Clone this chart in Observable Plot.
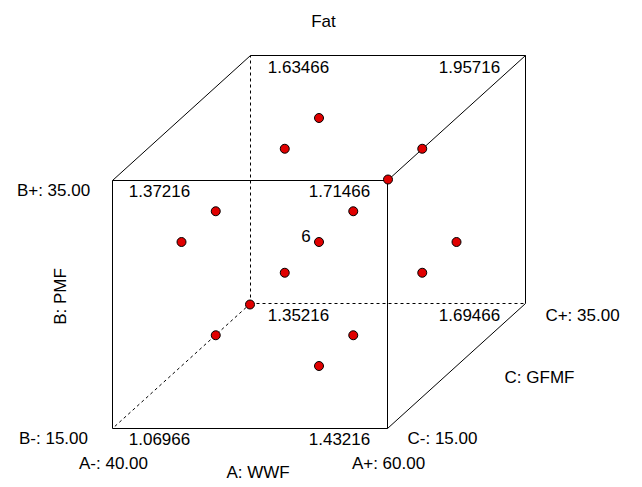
<!DOCTYPE html>
<html><head><meta charset="utf-8">
<script src="https://cdn.jsdelivr.net/npm/d3@7"></script>
<script src="https://cdn.jsdelivr.net/npm/@observablehq/plot@0.6"></script>
<style>body{margin:0;background:#fff;}</style>
</head><body><div id="chart"></div>
<script>
// ---- data ----
const responseName = "Fat";
const factorNames = ["A: WWF", "B: PMF", "C: GFMF"];
const factorLetters = ["A", "B", "C"];
const lowLevels = [40, 15, 15];
const highLevels = [60, 35, 35];
const cornerA = [40, 60, 40, 60, 40, 60, 40, 60];
const cornerB = [15, 15, 35, 35, 15, 15, 35, 35];
const cornerC = [15, 15, 15, 15, 35, 35, 35, 35];
const cornerValues = [1.06966, 1.43216, 1.37216, 1.71466, 1.35216, 1.69466, 1.63466, 1.95716];
const pointA = [45, 55, 45, 55, 45, 55, 45, 55, 40, 60, 50, 50, 50, 50, 50];
const pointB = [20, 20, 30, 30, 20, 20, 30, 30, 25, 25, 15, 35, 25, 25, 25];
const pointC = [20, 20, 20, 20, 30, 30, 30, 30, 25, 25, 25, 25, 15, 35, 25];
const pointRuns = [1, 1, 1, 1, 1, 1, 1, 1, 1, 1, 1, 1, 1, 1, 6];
const solidEdges = [[0,1],[1,3],[3,2],[2,0],[2,6],[6,7],[3,7],[7,5],[1,5]];
const hiddenEdges = [[4,0],[4,6],[4,5]];

// ---- oblique projection of coded factor space ----
const depthX = 138 / 275, depthY = 125 / 248;
const norm = (v, i) => (v - lowLevels[i]) / (highLevels[i] - lowLevels[i]);
const px = (a, c) => norm(a, 0) + depthX * norm(c, 2);
const py = (b, c) => norm(b, 1) + depthY * norm(c, 2);

const corners = cornerValues.map((v, i) => ({
  a: cornerA[i], b: cornerB[i], c: cornerC[i], v,
  X: px(cornerA[i], cornerC[i]), Y: py(cornerB[i], cornerC[i]),
  label: v.toFixed(5)
}));
const points = pointA.map((a, i) => ({
  X: px(a, pointC[i]), Y: py(pointB[i], pointC[i]), n: pointRuns[i]
}));
const edge = ([f, t]) => ({x1: corners[f].X, y1: corners[f].Y, x2: corners[t].X, y2: corners[t].Y});
const solid = solidEdges.map(edge);
const hidden = hiddenEdges.map(edge);

const lo = i => `${factorLetters[i]}-: ${lowLevels[i].toFixed(2)}`;
const hi = i => `${factorLetters[i]}+: ${highLevels[i].toFixed(2)}`;
const A0 = lowLevels[0], A1 = highLevels[0], B0 = lowLevels[1], B1 = highLevels[1], C0 = lowLevels[2], C1 = highLevels[2];
const mid = i => (lowLevels[i] + highLevels[i]) / 2;

const font = "'Liberation Sans', Arial, sans-serif";
const FS = 17;
const T = (data, opts) => Plot.text(data, {x: "X", y: "Y", text: "t", fill: "#000", fontSize: FS, ...opts});
const at = (a, b, c, t) => ({X: px(a, c), Y: py(b, c), t});
const cornerLabel = (filter, dx, dy) => Plot.text(corners.filter(filter), {x: "X", y: "Y", text: "label", fontSize: FS, fill: "#000", dx, dy});

const chart = Plot.plot({
  width: 642, height: 487, margin: 0,
  style: {fontFamily: font, background: "#fff"},
  x: {domain: [0, 1 + depthX], range: [112, 525], axis: null},
  y: {domain: [0, 1 + depthY], range: [428, 55], axis: null},
  marks: [
    Plot.link(hidden, {x1: "x1", y1: "y1", x2: "x2", y2: "y2", stroke: "#000", strokeWidth: 1, strokeDasharray: "3,3"}),
    Plot.link(solid, {x1: "x1", y1: "y1", x2: "x2", y2: "y2", stroke: "#000", strokeWidth: 1}),
    cornerLabel(d => d.a === A0 && d.c === C0, 47, 11),
    cornerLabel(d => d.a === A1 && d.c === C0, -48, 11),
    cornerLabel(d => d.a === A0 && d.c === C1, 48, 12),
    cornerLabel(d => d.a === A1 && d.c === C1, -56, 12),
    Plot.dot(points, {x: "X", y: "Y", r: 4.5, fill: "#e00000", stroke: "#000", strokeWidth: 1}),
    Plot.text(points.filter(d => d.n > 1), {x: "X", y: "Y", text: d => String(d.n), fontSize: FS, fill: "#000", dx: -13, dy: -5}),
    T([at(A0, B1, C0, hi(1)), at(A0, B0, C0, lo(1))], {dx: -59, dy: 10}),
    T([at(A0, mid(1), C0, factorNames[1])], {dx: -52, dy: -8, rotate: -90}),
    T([at(A0, B0, C0, lo(0)), at(A1, B0, C0, hi(0))], {dx: 1, dy: 35}),
    T([at(mid(0), B0, C0, factorNames[0])], {dx: 8, dy: 44}),
    T([at(A1, B0, C0, lo(2))], {dx: 55, dy: 10}),
    T([at(A1, B0, C1, hi(2))], {dx: 57, dy: 12}),
    T([at(A1, B0, mid(2), factorNames[2])], {dx: 83, dy: 12}),
    Plot.text([responseName], {frameAnchor: "top", text: d => d, fontSize: FS, fill: "#000", dx: 2, dy: 14})
  ]
});
document.getElementById("chart").appendChild(chart);
</script>
</body></html>
